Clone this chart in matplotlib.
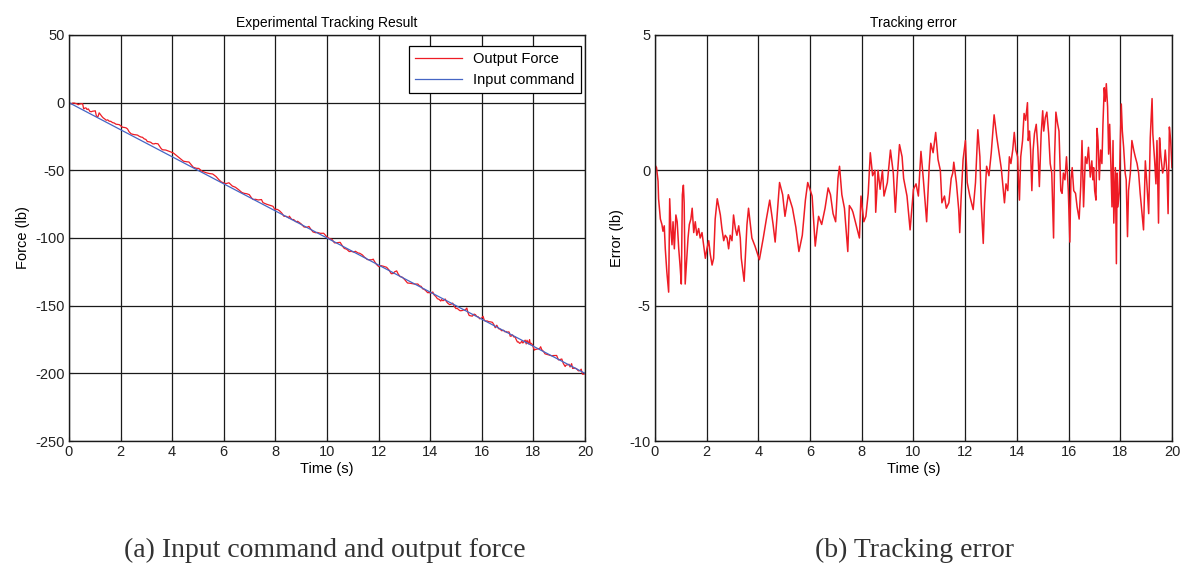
import matplotlib.pyplot as plt
import numpy as np

# input command ramp (lb) over time (s)
cmd_t = [0, 20]
cmd_f = [0, -200]

# tracking error (lb)
err_t = [0.0, 0.06, 0.12, 0.14, 0.21, 0.27, 0.31, 0.36, 0.4, 0.46,
         0.53, 0.57, 0.62, 0.66, 0.7, 0.75, 0.81, 0.86, 0.92, 0.97,
         1.02, 1.06, 1.1, 1.13, 1.17, 1.23, 1.28, 1.33, 1.39, 1.44,
         1.5, 1.56, 1.62, 1.69, 1.75, 1.82, 1.88, 1.95, 2.01, 2.08,
         2.14, 2.21, 2.27, 2.33, 2.41, 2.46, 2.53, 2.59, 2.66, 2.72,
         2.79, 2.85, 2.91, 2.98, 3.04, 3.11, 3.17, 3.24, 3.3, 3.34,
         3.45, 3.56, 3.62, 3.75, 3.87, 4.04, 4.19, 4.31, 4.44, 4.57,
         4.65, 4.82, 4.94, 5.03, 5.16, 5.32, 5.45, 5.57, 5.7, 5.82,
         5.91, 6.08, 6.2, 6.33, 6.45, 6.58, 6.7, 6.79, 6.89, 6.99,
         7.08, 7.14, 7.23, 7.33, 7.46, 7.52, 7.62, 7.66, 7.78, 7.91,
         7.97, 8.08, 8.16, 8.25, 8.33, 8.42, 8.51, 8.54, 8.63, 8.71,
         8.8, 8.86, 8.99, 9.11, 9.22, 9.3, 9.37, 9.46, 9.56, 9.62,
         9.75, 9.87, 10.0, 10.1, 10.19, 10.29, 10.38, 10.51, 10.61, 10.67,
         10.76, 10.86, 10.95, 11.04, 11.1, 11.2, 11.27, 11.37, 11.46, 11.52,
         11.56, 11.66, 11.75, 11.79, 11.84, 11.92, 12.01, 12.08, 12.18, 12.31,
         12.4, 12.49, 12.57, 12.62, 12.7, 12.75, 12.83, 12.92, 13.01, 13.12,
         13.22, 13.31, 13.4,
         13.52, 13.58, 13.65, 13.71, 13.77, 13.84, 13.9, 13.96, 14.03, 14.06,
         14.1, 14.15, 14.22, 14.28, 14.34, 14.41, 14.44, 14.49, 14.53, 14.58,
         14.63, 14.68, 14.75, 14.81, 14.87, 14.94, 15.0, 15.04, 15.1, 15.16,
         15.23, 15.29, 15.35, 15.42, 15.46, 15.51, 15.58, 15.63, 15.7, 15.75,
         15.8, 15.86, 15.92, 15.99, 16.05, 16.09, 16.14, 16.2, 16.27, 16.33,
         16.41, 16.47, 16.52, 16.58, 16.65, 16.71, 16.77, 16.84, 16.9, 16.94,
         16.97, 17.01, 17.06, 17.1, 17.14, 17.19, 17.24, 17.29, 17.33, 17.38,
         17.42, 17.46, 17.51, 17.55, 17.59, 17.64, 17.68, 17.72, 17.75, 17.81,
         17.85, 17.88, 17.91, 17.96, 18.0, 18.04, 18.08, 18.13, 18.19, 18.23,
         18.28, 18.32, 18.39, 18.45, 18.52, 18.58, 18.65, 18.71, 18.77, 18.84,
         18.9, 18.97, 19.03, 19.1, 19.16, 19.23, 19.26, 19.33, 19.38, 19.42,
         19.48, 19.52, 19.57, 19.64, 19.69, 19.74, 19.81, 19.85, 19.9, 19.95,
         20.0]
err_v = [0.2, 0.1, -0.4, -1.05, -1.8, -2.0, -2.25, -2.05, -2.9, -3.75,
         -4.5, -1.05, -2.25, -2.75, -1.9, -2.9, -1.65, -1.9, -2.9, -3.5,
         -4.2, -0.9, -0.55, -1.2, -4.2, -3.25, -2.5, -2.0, -1.8, -1.4,
         -2.3, -1.9, -2.4, -2.15, -2.5, -2.3, -2.75, -3.25, -2.9, -2.6,
         -3.1, -3.5, -3.25, -1.8, -1.05, -1.3, -1.65, -2.15, -2.6, -2.4,
         -2.5, -2.9, -2.4, -2.6, -1.65, -2.15, -2.4, -2.05, -2.5, -3.25,
         -4.1, -2.0, -1.4, -2.5, -2.8, -3.3, -2.5, -1.8, -1.1, -2.0,
         -2.65, -0.45, -0.9, -1.7, -0.9, -1.4, -2.1, -3.0, -2.4, -1.1,
         -0.45, -0.95, -2.8, -1.7, -2.0, -1.4, -0.65, -0.9, -1.6, -1.9,
         -0.3, 0.15, -0.9, -1.4, -3.0, -1.3, -1.45, -1.55, -2.0, -2.5,
         -0.95, -1.9, -1.7, -0.85, 0.65, -0.2, 0.0, -1.55, 0.0, -0.7,
         0.0, -0.95, -0.45, 0.75, -0.1, -1.55, -0.3, 0.95, 0.5, -0.3,
         -0.95, -2.2, -0.7, -0.5, -0.95, 0.7, -0.3, -1.9, 0.15, 1.0,
         0.65, 1.4, 0.4, 0.0, -1.2, -0.95, -1.4, -1.2, -0.3, -0.1,
         0.3, -0.45, -1.45, -2.3, -1.1, 0.4, 1.1, -0.45, -0.95, -1.45,
         -0.45, 1.5, 0.5, -1.2, -2.7, -1.2, 0.15, -0.2, 0.65, 2.05,
         1.25, 0.65, 0.05,
         -1.2, -0.5, -0.75, 0.5, 0.25, 0.75, 1.4, 0.75, 0.5, -0.35,
         -1.1, 0.5, 1.1, 2.1, 1.85, 2.5, 1.1, 1.45, 0.75, -0.75,
         0.75, 1.35, 1.7, 0.85, -0.6, 1.35, 2.2, 1.45, 1.95, 2.15,
         1.35, 0.25, -0.1, -2.5, 0.5, 2.15, 1.7, 1.45, -0.75, -0.85,
         -0.1, -0.35, 0.5, -0.75, -2.65, -0.35, 0.1, -0.75, -0.85, -1.35,
         -1.8, -0.6, 1.1, -1.35, 0.5, 0.25, 0.85, -0.25, 0.35, -0.35,
         0.1, -0.75, -1.1, 1.55, 1.1, -0.35, 0.75, 0.25, 1.7, 3.05,
         2.55, 3.2, 2.35, 0.6, 1.7, 0.1, -1.35, 1.1, -1.95, 0.1,
         -3.45, -0.1, -1.35, -0.85, 1.0, 2.45, 1.45, 0.85, -0.1, -0.35,
         -2.45, -0.75, -0.1, 1.1, 0.75, 0.5, 0.25, -0.1, -0.85, -1.6,
         -2.2, 0.35, -0.5, -1.6, 1.2, 2.65, 1.35, 0.35, -0.5, 1.1,
         -1.95, 1.2, 0.5, -0.1, 0.1, 0.75, -0.1, -1.6, 1.6, 1.1,
         0.1]

# output force = command - error
out_f = np.interp(err_t, cmd_t, cmd_f) - np.array(err_v)

plt.rcParams['font.family'] = ['Liberation Sans', 'DejaVu Sans']
plt.rcParams['font.size'] = 10.5
plt.rcParams['axes.unicode_minus'] = False

red = '#ee1c25'
blue = '#4565c4'

fig = plt.figure(figsize=(11.85, 5.67), dpi=100)
ax1 = fig.add_axes([0.0582, 0.2222, 0.4355, 0.7161])
ax2 = fig.add_axes([0.5527, 0.2222, 0.4363, 0.7161])

ax1.plot(err_t, out_f, color=red, lw=0.9, label='Output Force')
ax1.plot(cmd_t, cmd_f, color=blue, lw=0.9, label='Input command')
ax1.set_xlim(0, 20)
ax1.set_ylim(-250, 50)
ax1.set_yticks(np.arange(-250, 51, 50))
ax1.set_title('Experimental Tracking Result', fontsize=10, pad=6)
ax1.set_xlabel('Time (s)', labelpad=2)
ax1.set_ylabel('Force (lb)')
leg = ax1.legend(loc='upper right', bbox_to_anchor=(0.997, 0.98), fancybox=False,
                 edgecolor='black', framealpha=1, fontsize=10.5, handlelength=3.2,
                 borderaxespad=0.2)
leg.get_frame().set_linewidth(0.9)

ax2.plot(err_t, err_v, color=red, lw=1.1)
ax2.set_xlim(0, 20)
ax2.set_ylim(-10, 5)
ax2.set_yticks([-10, -5, 0, 5])
ax2.set_title('Tracking error', fontsize=10, pad=6)
ax2.set_xlabel('Time (s)', labelpad=2)
ax2.set_ylabel('Error (lb)')

for ax in (ax1, ax2):
    ax.set_xticks(np.arange(0, 21, 2))
    ax.grid(True, color='#1a1a1a', lw=0.9, ls='-')
    ax.set_axisbelow(True)
    ax.tick_params(direction='in', length=3, pad=3, labelsize=10.5, colors='#222222')
    for s in ax.spines.values():
        s.set_color('#1a1a1a')
        s.set_linewidth(1.0)

fig.text(0.274, 0.03, '(a) Input command and output force', ha='center', va='center',
         family='Liberation Serif', fontsize=20, color='#333333')
fig.text(0.772, 0.03, '(b) Tracking error', ha='center', va='center',
         family='Liberation Serif', fontsize=20, color='#333333')

fig.savefig('out.png', dpi=100)
